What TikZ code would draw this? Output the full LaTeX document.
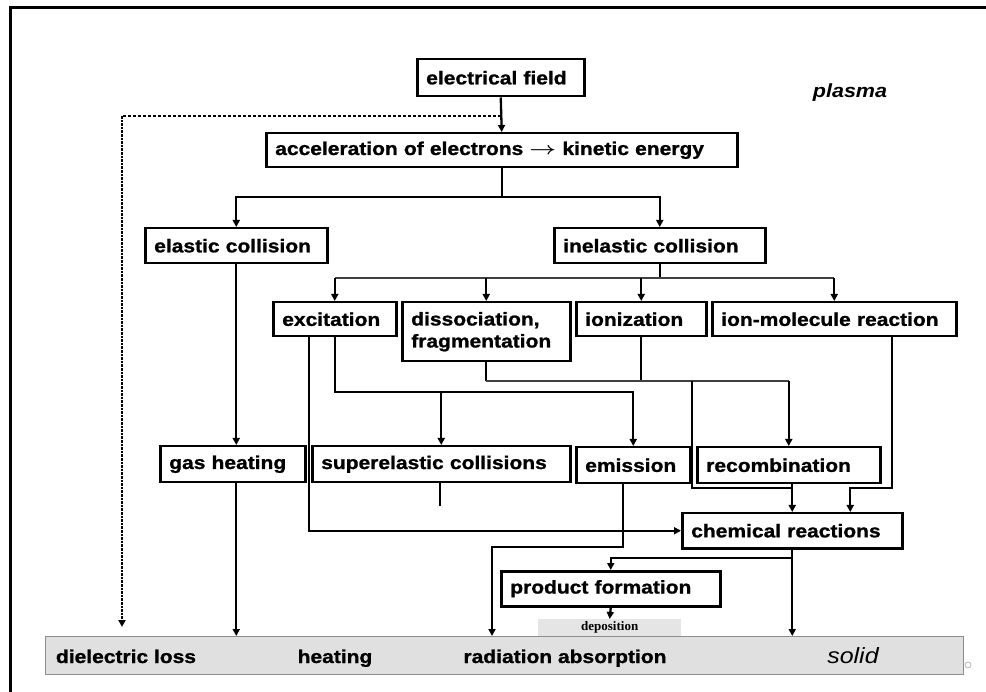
\documentclass[tikz,border=0pt]{standalone}
\usepackage{fontspec}
\usepackage{graphicx}
\setmainfont[FakeStretch=1.135, BoldFeatures={FakeBold=1.2}]{Liberation Sans}
\newfontfamily\depfont{Liberation Serif}
\usetikzlibrary{arrows.meta}
\tikzset{
  box/.style={draw, line width=2.5pt, anchor=north west, inner xsep=9pt, inner ysep=0pt, align=left,
    font=\fontsize{18.5}{22}\selectfont\bfseries},
  ln/.style={line width=2.3pt},
  thinln/.style={line width=1.4pt, draw=black!75},
  arr/.style={line width=2.3pt, -{Triangle[length=7pt,width=7pt]}},
  bartext/.style={anchor=base, font=\fontsize{18.5}{22}\selectfont\bfseries},
}
\begin{document}
\begin{tikzpicture}[x=1pt,y=-1pt]
\useasboundingbox (0,0) rectangle (986,692);
% frame
\draw[line width=3pt] (10,700) -- (10,8) -- (986,8);
% bottom bar
\node[draw=black!45, fill=black!12, line width=1pt, minimum width=918pt, minimum height=38pt, anchor=north west, inner sep=0pt] (bar) at (45,636) {};
\node[bartext] (tdl) at (126,663) {dielectric loss};
\node[bartext] (theat) at (335,663) {heating};
\node[bartext] (trad) at (565,663) {radiation absorption};
\node[anchor=base, font=\fontsize{22}{26}\selectfont\itshape] (tsolid) at (853,663) {solid};
\node[draw=black!35, line width=0.6pt, circle, inner sep=0pt, minimum size=6pt] (mark) at (968,665) {};
\node[anchor=base, font=\fontsize{19}{22}\selectfont\bfseries\itshape] (plasma) at (850,98) {plasma};
% boxes
\node[box, text width=149pt, minimum height=37pt] (ef) at (416,58) {electrical field};
\node[box, text width=453pt, minimum height=34pt] (acc) at (265,132) {acceleration of electrons \scalebox{1.35}[1]{\boldmath$\rightarrow$} kinetic energy};
\node[box, text width=164pt, minimum height=35pt] (el) at (144,227) {elastic collision};
\node[box, text width=193pt, minimum height=35pt] (inel) at (553,227) {inelastic collision};
\node[box, text width=105pt, minimum height=34pt] (exc) at (272,301) {excitation};
\node[box, text width=150pt, minimum height=59pt] (diss) at (401,301) {dissociation,\\fragmentation};
\node[box, text width=112pt, minimum height=34pt] (ion) at (575,301) {ionization};
\node[box, text width=226pt, minimum height=34pt] (imr) at (711,301) {ion-molecule reaction};
\node[box, text width=127pt, minimum height=36pt] (gh) at (159,445) {gas heating};
\node[box, text width=240pt, minimum height=36pt] (sup) at (311,445) {superelastic collisions};
\node[box, text width=96pt, minimum height=36pt] (emis) at (575,446) {emission};
\node[box, text width=165pt, minimum height=36pt] (rec) at (696,446) {recombination};
\node[box, text width=202pt, minimum height=35pt] (chem) at (681,512) {chemical reactions};
\node[box, text width=201pt, minimum height=35pt] (pf) at (500,570) {product formation};
\node[fill=black!10, anchor=north west, minimum width=143pt, minimum height=17pt, inner sep=0pt,
  font=\fontsize{13}{13}\selectfont\depfont\bfseries] (dep) at (538,619) {deposition};
% connectors
\draw[arr] (ef.south) -- (acc.north);
\draw[line width=1.8pt, densely dashed] (ef.south |- 0,116) -- (122,116) coordinate (dcorner);
\coordinate (dend) at (122,627);
\draw[line width=2.6pt, densely dotted, -{Triangle[length=7pt,width=7pt]}] (dcorner) -- (dend);
\draw[ln] (acc.south) -- (acc.south |- 0,197) coordinate (j1);
\draw[arr] (j1) -| (el.north);
\draw[arr] (j1) -| (inel.north);
% inelastic branches
\draw[ln] (inel.south) -- (inel.south |- 0,278);
\draw[thinln] (exc.north |- 0,278) -- (imr.north |- 0,278);
\draw[arr] (exc.north |- 0,278) -- (exc.north);
\draw[arr] (diss.north |- 0,278) -- (diss.north);
\draw[arr] (ion.north |- 0,278) -- (ion.north);
\draw[arr] (imr.north |- 0,278) -- (imr.north);
% elastic -> gas heating -> bar
\draw[arr] (el.south) -- (el.south |- gh.north);
\draw[arr] (el.south |- gh.south) -- (el.south |- bar.north);
% excitation
\draw[arr] ([xshift=-26pt]exc.south) |- (chem.west);
\draw[arr] (exc.south) |- (emis.north |- 0,392) -- (emis.north);
\draw[arr] (sup.north |- 0,392) -- (sup.north);
\draw[ln] ([xshift=-1pt]sup.south) -- ++(0,23);
% dissociation / ionization
\draw[ln] (diss.south) -- (diss.south |- 0,381);
\draw[ln] (ion.south) -- (ion.south |- 0,381);
\draw[thinln] (diss.south |- 0,381) -- (rec.north |- 0,381);
\draw[arr] (rec.north |- 0,381) -- (rec.north);
\coordinate (j3) at (692,381);
\draw[ln] (j3) |- (chem.north |- 0,488);
\draw[arr] (chem.north |- rec.south) -- (chem.north);
\draw[arr] ([xshift=58pt]imr.south) |- ([xshift=58pt]chem.north |- 0,488) -- ([xshift=58pt]chem.north);
% emission -> bar
\coordinate (eturn) at (492,547);
\draw[arr] ([xshift=-10pt]emis.south) |- (eturn) -- (eturn |- bar.north);
% chemical reactions
\draw[arr] (chem.south) -- (chem.south |- bar.north);
\draw[arr] (chem.south |- 0,558) -| (pf.north);
\draw[arr] (pf.south) -- (dep.north);
\end{tikzpicture}
\end{document}
